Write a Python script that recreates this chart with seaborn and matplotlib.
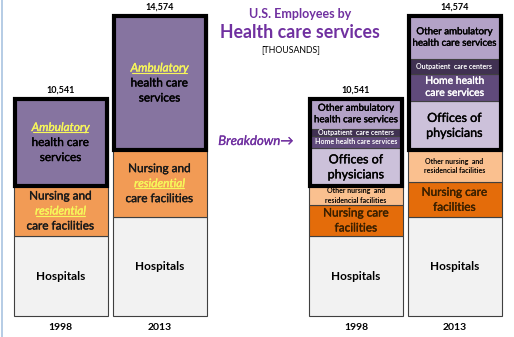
import matplotlib
matplotlib.use("Agg")
import matplotlib.pyplot as plt
import seaborn as sns
import numpy as np
from matplotlib.lines import Line2D
from matplotlib.transforms import IdentityTransform
import matplotlib.patheffects as pe

# ---------------- data (thousands of employees) ----------------
years = ["1998", "2013"]
totals = [10541, 14574]
# summary view
hospitals = [3886, 4800]
nursing_residential = [2428, 3262]
ambulatory = [4227, 6512]
# breakdown view
nursing_care = [1506, 1690]
other_nursing = [922, 1572]
offices_physicians = [1860, 2396]
home_health = [570, 1297]
outpatient = [340, 729]
other_ambulatory = [1457, 2090]

# ---------------- style ----------------
sns.set_style("white")
plt.rcParams['font.family'] = ['Lato', 'DejaVu Sans']

W, H = 514, 337
fig = plt.figure(figsize=(W / 100, H / 100), dpi=100)
ax = fig.add_axes([0, 0, 1, 1])
k = 300 / 14574.0          # px per thousand
base_px = 21               # baseline distance from bottom (px)
ax.set_xlim(0, W)
ax.set_ylim(-base_px / k, (H - base_px) / k)
ax.axis('off')

def py(px):  # px distance -> data units
    return px / k

left_x = [60.5, 159.5]
right_x = [356, 454.5]
bw = 94
edge = '#404040'

C_HOSP = '#F2F2F2'
C_NURS = '#F29B55'
C_AMB = '#8674A0'
C_NCARE = '#E46C0A'
C_ONURS = '#FAC08F'
C_OFF = '#CCC1DA'
C_HOME = '#604A7B'
C_OUT = '#403152'
C_OAMB = '#B3A2C7'
YEL = '#F7F75A'
PURP = '#7030A0'

underlines = []

def heavy(color, w=0.25):
    return [pe.withStroke(linewidth=w, foreground=color)]

def seg_text(x, bottom, height, lines, spacing):
    """lines: list of (text, size, color, weight, style, underline)"""
    cy = bottom + height / 2
    n = len(lines)
    for i, (s, size, color, weight, style, ul) in enumerate(lines):
        y = cy + py(spacing) * ((n - 1) / 2 - i)
        t = ax.text(x, y, s, ha='center', va='center', fontsize=size, color=color,
                    fontweight=weight, fontstyle=style, zorder=10,
                    path_effects=heavy(color) if weight == 'normal' else None)
        if ul:
            underlines.append((t, color))

# ---------------- left: summary ----------------
for i, x in enumerate(left_x):
    b = 0
    ax.bar(x, hospitals[i], bottom=b, width=bw, color=C_HOSP, edgecolor=edge, linewidth=0.8)
    seg_text(x, b, hospitals[i], [("Hospitals", 8.5, 'black', 'bold', 'normal', False)], 14)
    b += hospitals[i]
    ax.bar(x, nursing_residential[i], bottom=b, width=bw, color=C_NURS, edgecolor=edge, linewidth=0.8)
    seg_text(x, b, nursing_residential[i], [
        ("Nursing and", 8.5, '#1a1a1a', 'normal', 'normal', False),
        ("residential", 8.5, YEL, 'normal', 'italic', True),
        ("care facilities", 8.5, '#1a1a1a', 'normal', 'normal', False)], 15)
    b += nursing_residential[i]
    ax.bar(x, ambulatory[i], bottom=b, width=bw, color=C_AMB, edgecolor=edge, linewidth=0.8)
    seg_text(x, b, ambulatory[i], [
        ("Ambulatory", 8.5, YEL, 'normal', 'italic', True),
        ("health care", 8.5, 'black', 'normal', 'normal', False),
        ("services", 8.5, 'black', 'normal', 'normal', False)], 15)
    ax.bar(x, ambulatory[i], bottom=b, width=bw - 2, fill=False, edgecolor='black',
           linewidth=3, zorder=5)
    ax.text(x, totals[i] + py(9), f"{totals[i]:,}", ha='center', va='center',
            fontsize=6.5, fontweight='bold', color='black')
    ax.text(x, -py(11), years[i], ha='center', va='center', fontsize=7.5,
            fontweight='bold', color='black')

# ---------------- right: breakdown ----------------
for i, x in enumerate(right_x):
    b = 0
    ax.bar(x, hospitals[i], bottom=b, width=bw, color=C_HOSP, edgecolor=edge, linewidth=0.8)
    seg_text(x, b, hospitals[i], [("Hospitals", 8.5, 'black', 'bold', 'normal', False)], 14)
    b += hospitals[i]
    ax.bar(x, nursing_care[i], bottom=b, width=bw, color=C_NCARE, edgecolor=edge, linewidth=0.8)
    seg_text(x, b, nursing_care[i], [
        ("Nursing care", 8.5, '#3a2000', 'normal', 'normal', False),
        ("facilities", 8.5, '#3a2000', 'normal', 'normal', False)], 15)
    b += nursing_care[i]
    ax.bar(x, other_nursing[i], bottom=b, width=bw, color=C_ONURS, edgecolor=edge, linewidth=0.8)
    seg_text(x, b, other_nursing[i], [
        ("Other nursing  and", 5, 'black', 'bold', 'normal', False),
        ("residencial facilities", 5, 'black', 'bold', 'normal', False)], 9.5)
    b += other_nursing[i]
    amb_bottom = b
    ax.bar(x, offices_physicians[i], bottom=b, width=bw, color=C_OFF, edgecolor=edge, linewidth=0.8)
    seg_text(x, b, offices_physicians[i], [
        ("Offices of", 9, 'black', 'normal', 'normal', False),
        ("physicians", 9, 'black', 'normal', 'normal', False)], 15)
    b += offices_physicians[i]
    ax.bar(x, home_health[i], bottom=b, width=bw, color=C_HOME, edgecolor=edge, linewidth=0.8)
    if i == 0:
        seg_text(x, b, home_health[i], [
            ("Home health care services", 5, 'white', 'bold', 'normal', False)], 10)
    else:
        seg_text(x, b, home_health[i], [
            ("Home health", 7.5, 'white', 'normal', 'normal', False),
            ("care services", 7.5, 'white', 'normal', 'normal', False)], 12)
    b += home_health[i]
    ax.bar(x, outpatient[i], bottom=b, width=bw, color=C_OUT, edgecolor=edge, linewidth=0.8)
    seg_text(x, b, outpatient[i], [
        ("Outpatient  care centers", 5, 'white', 'bold', 'normal', False)], 10)
    b += outpatient[i]
    ax.bar(x, other_ambulatory[i], bottom=b, width=bw, color=C_OAMB, edgecolor=edge, linewidth=0.8)
    seg_text(x, b, other_ambulatory[i], [
        ("Other ambulatory", 7, 'black', 'normal', 'normal', False),
        ("health care services", 7, 'black', 'normal', 'normal', False)], 11.5)
    ax.bar(x, ambulatory[i], bottom=amb_bottom, width=bw - 2, fill=False, edgecolor='black',
           linewidth=3, zorder=5)
    ax.text(x, totals[i] + py(9), f"{totals[i]:,}", ha='center', va='center',
            fontsize=6.5, fontweight='bold', color='black')
    ax.text(x, -py(11), years[i], ha='center', va='center', fontsize=7.5,
            fontweight='bold', color='black')

# ---------------- titles ----------------
def fy(px):
    return 1 - px / H

fig.text(300 / W, fy(14), "U.S. Employees by", ha='center', va='center',
         fontsize=9, fontweight='bold', color=PURP)
fig.text(300 / W, fy(33), "Health care services", ha='center', va='center',
         fontsize=12.8, fontweight='bold', color=PURP)
fig.text(291 / W, fy(50), "[THOUSANDS]", ha='center', va='center',
         fontsize=6.3, color='black')
fig.text(256 / W, fy(141), "Breakdown\u2192", ha='center', va='center',
         fontsize=9.5, fontstyle='italic', color=PURP,
         family=['Lato', 'DejaVu Sans'], path_effects=heavy(PURP, 0.2))

# left slide border
fig.add_artist(Line2D([1.5 / W, 1.5 / W], [0, 1], color='#A9C4E0', linewidth=1.2))

# underlines
fig.canvas.draw()
renderer = fig.canvas.get_renderer()
for t, c in underlines:
    bb = t.get_window_extent(renderer)
    yline = bb.y0 + 1
    fig.add_artist(Line2D([bb.x0 + 1, bb.x1 - 1], [yline, yline], transform=IdentityTransform(),
                          color=c, linewidth=0.8, zorder=11))

fig.savefig("out.png", dpi=100)
